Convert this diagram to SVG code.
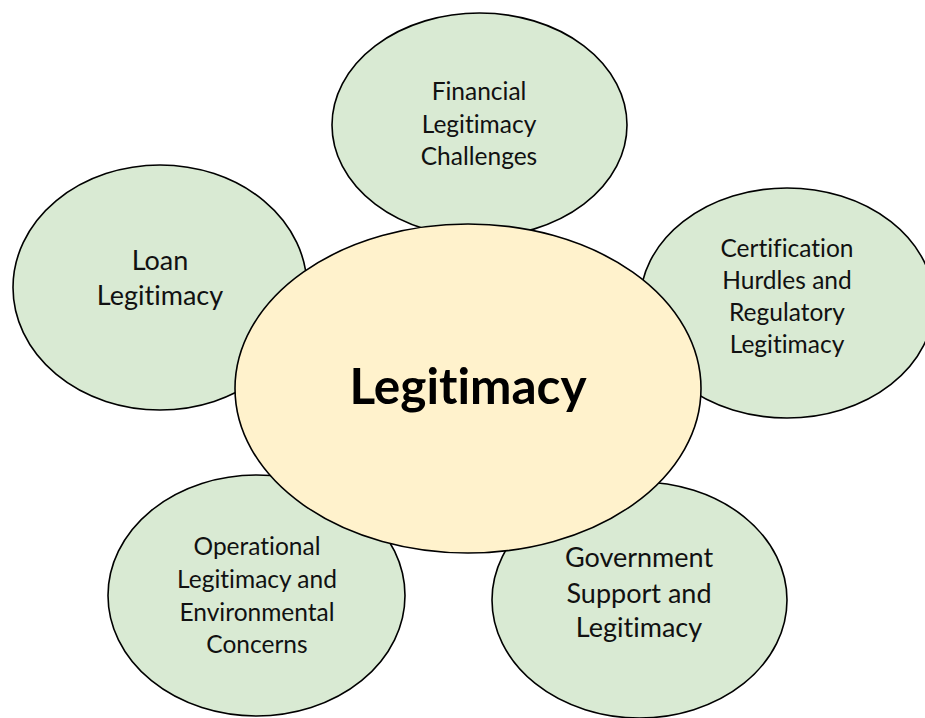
<svg xmlns="http://www.w3.org/2000/svg" width="925" height="718" viewBox="0 0 925 718">
<style>
.leaf{fill:#D9EAD3;stroke:#000;stroke-width:1.6}
.hub{fill:#FFF2CC;stroke:#000;stroke-width:1.6}
text{font-variant-ligatures:none;font-feature-settings:"liga" 0,"dlig" 0}
.t{font-family:Lato,"Liberation Sans",sans-serif;font-size:24.5px;fill:#111;text-anchor:middle}
.tl{font-size:27px}
.c{font-family:Lato,"Liberation Sans",sans-serif;font-size:49.5px;font-weight:bold;fill:#000;text-anchor:middle}
</style>
<rect width="925" height="718" fill="#fff"/>
<g id="connectors"/>
<g id="financial">
<ellipse class="leaf" cx="479.5" cy="125" rx="147.5" ry="112"/>
<text class="t" x="479" y="100">Financial</text>
<text class="t" x="479" y="132.5">Legitimacy</text>
<text class="t" x="479" y="165">Challenges</text>
</g>
<g id="loan">
<ellipse class="leaf" cx="160" cy="287.5" rx="147" ry="122.5"/>
<text class="t tl" x="160" y="270">Loan</text>
<text class="t tl" x="160" y="305">Legitimacy</text>
</g>
<g id="certification">
<ellipse class="leaf" cx="787" cy="303" rx="147" ry="115"/>
<text class="t" x="787" y="257">Certification</text>
<text class="t" x="787" y="288.5">Hurdles and</text>
<text class="t" x="787" y="320.5">Regulatory</text>
<text class="t" x="787" y="353">Legitimacy</text>
</g>
<g id="operational">
<ellipse class="leaf" cx="256.5" cy="595.5" rx="148.5" ry="120.5"/>
<text class="t" x="257" y="555">Operational</text>
<text class="t" x="257" y="588">Legitimacy and</text>
<text class="t" x="257" y="621">Environmental</text>
<text class="t" x="257" y="653">Concerns</text>
</g>
<g id="government">
<ellipse class="leaf" cx="639.5" cy="600" rx="147.5" ry="118"/>
<text class="t tl" x="639" y="567">Government</text>
<text class="t tl" x="639" y="603">Support and</text>
<text class="t tl" x="639" y="637">Legitimacy</text>
</g>
<g id="legitimacy">
<ellipse class="hub" cx="468" cy="388.5" rx="233" ry="164.5"/>
<text class="c" x="468" y="404">Legitimacy</text>
</g>
</svg>
